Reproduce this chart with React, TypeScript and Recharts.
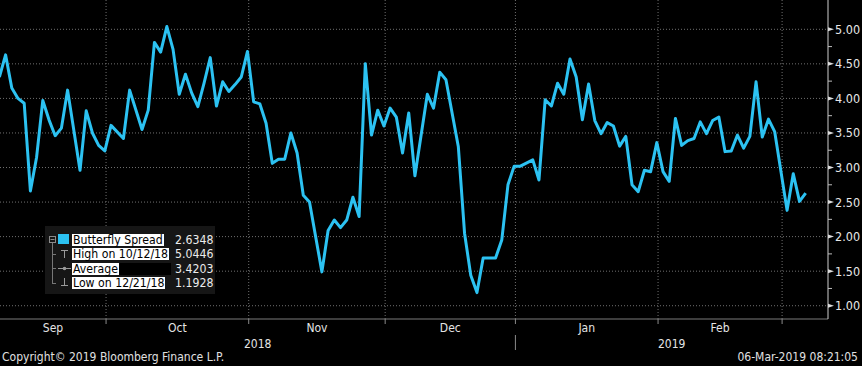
import React from "react";
import { LineChart, Line, XAxis, YAxis, CartesianGrid } from "recharts";

// Butterfly spread, one value per trading day (vertices)
const dates = [
  "2018-09-05", "2018-09-06", "2018-09-07", "2018-09-10", "2018-09-11", "2018-09-12",
  "2018-09-13", "2018-09-14", "2018-09-17", "2018-09-18", "2018-09-19", "2018-09-20",
  "2018-09-24", "2018-09-25", "2018-09-26", "2018-09-27", "2018-09-28",
  "2018-10-01", "2018-10-03", "2018-10-04", "2018-10-08", "2018-10-09", "2018-10-10",
  "2018-10-11", "2018-10-12", "2018-10-15", "2018-10-16", "2018-10-17", "2018-10-18",
  "2018-10-19", "2018-10-22", "2018-10-23", "2018-10-24", "2018-10-25", "2018-10-26",
  "2018-10-29", "2018-10-30", "2018-10-31",
  "2018-11-01", "2018-11-02", "2018-11-05", "2018-11-06", "2018-11-07", "2018-11-08",
  "2018-11-09", "2018-11-12", "2018-11-13", "2018-11-14", "2018-11-16", "2018-11-19",
  "2018-11-20", "2018-11-21", "2018-11-22", "2018-11-23", "2018-11-26", "2018-11-27",
  "2018-11-28", "2018-11-29", "2018-11-30",
  "2018-12-03", "2018-12-04", "2018-12-05", "2018-12-06", "2018-12-07", "2018-12-11",
  "2018-12-12", "2018-12-13", "2018-12-14", "2018-12-18", "2018-12-19", "2018-12-20",
  "2018-12-21", "2018-12-24", "2018-12-26", "2018-12-27", "2018-12-28", "2018-12-31",
  "2019-01-01", "2019-01-03", "2019-01-04", "2019-01-07", "2019-01-08", "2019-01-09",
  "2019-01-10", "2019-01-11", "2019-01-14", "2019-01-15", "2019-01-16", "2019-01-17",
  "2019-01-18", "2019-01-21", "2019-01-22", "2019-01-23", "2019-01-24", "2019-01-25",
  "2019-01-28", "2019-01-29", "2019-01-30", "2019-01-31",
  "2019-02-01", "2019-02-04", "2019-02-05", "2019-02-06", "2019-02-07", "2019-02-08",
  "2019-02-11", "2019-02-12", "2019-02-13", "2019-02-14", "2019-02-15", "2019-02-18",
  "2019-02-19", "2019-02-20", "2019-02-21", "2019-02-22", "2019-02-25", "2019-02-26",
  "2019-02-27",
  "2019-03-01", "2019-03-04", "2019-03-05", "2019-03-06",
];

const spread = [
  4.31, 4.63, 4.15, 4.0, 3.93, 2.66,
  3.15, 3.97, 3.69, 3.46, 3.57, 4.12,
  2.96, 3.82, 3.5, 3.32, 3.24,
  3.61, 3.42, 4.12, 3.55, 3.83, 4.81,
  4.67, 5.04, 4.71, 4.06, 4.35, 4.08,
  3.88, 4.22, 4.59, 3.89, 4.24, 4.1,
  4.2, 4.31, 4.68,
  3.95, 3.92, 3.64, 3.06, 3.12, 3.12,
  3.5, 3.21, 2.6, 2.5, 1.49, 2.09,
  2.24, 2.13, 2.24, 2.57, 2.29, 4.5,
  3.47, 3.83, 3.6,
  3.86, 3.73, 3.21, 3.79, 2.88, 4.06,
  3.86, 4.38, 4.27, 3.3, 2.05, 1.44,
  1.19, 1.69, 1.69, 1.95, 2.75, 3.02,
  3.02, 3.11, 2.82, 3.98, 3.89, 4.22,
  4.06, 4.57, 4.31, 3.69, 4.21, 3.68,
  3.49, 3.65, 3.6, 3.31, 3.45, 2.75,
  2.65, 2.96, 2.94, 3.36,
  2.94, 2.8, 3.71, 3.32, 3.39, 3.42,
  3.66, 3.49, 3.68, 3.73, 3.23, 3.24,
  3.47, 3.28, 3.45, 4.24, 3.44, 3.7,
  3.52,
  2.38, 2.91, 2.51, 2.63,
];

const monthStarts = ["2018-10-01", "2018-11-01", "2018-12-03", "2019-01-01", "2019-02-01", "2019-03-01"];
const monthLabels = ["Sep", "Oct", "Nov", "Dec", "Jan", "Feb"];
const yearLabels = ["2018", "2019"];
const yearStart = "2019-01-01";

const yTicks = [1.0, 1.25, 1.5, 1.75, 2.0, 2.25, 2.5, 2.75, 3.0, 3.25, 3.5, 3.75, 4.0, 4.25, 4.5, 4.75, 5.0];
const yGrid = [1.0, 1.5, 2.0, 2.5, 3.0, 3.5, 4.0, 4.5, 5.0];

const legendRows = [
  { label: "Butterfly Spread", value: "2.6348" },
  { label: "High on 10/12/18", value: "5.0446" },
  { label: "Average", value: "3.4203" },
  { label: "Low on 12/21/18", value: "1.1928" },
];

const LINE_COLOR = "#2cc2f2";
const FONT = '"Liberation Sans Narrow", "DejaVu Sans Condensed", sans-serif';

// weekday count since Mon 1 Oct 2018 (Bloomberg plots trading days only)
const BASE = Date.UTC(2018, 9, 1);
function tradingIndex(d: string) {
  const [y, m, day] = d.split("-").map(Number);
  const days = Math.round((Date.UTC(y, m - 1, day) - BASE) / 86400000);
  const weeks = Math.floor(days / 7);
  const rem = days - weeks * 7;
  return weeks * 5 + Math.min(rem, 5);
}

const GRID_SHIFT = 0.8; // month gridline sits a bit before the first trading day
const X_MIN = tradingIndex(dates[0]) + 0.1;
const X_MAX = tradingIndex(dates[dates.length - 1]) + 3.6;

const data = dates.map((d, i) => ({ x: tradingIndex(d), v: spread[i] }));
const bounds = monthStarts.map((d) => tradingIndex(d) - GRID_SHIFT);
const yearBound = tradingIndex(yearStart) - GRID_SHIFT;

// tick kinds for the bottom axis
const tickInfo = new Map<number, { kind: string; text?: string }>();
bounds.forEach((b) => tickInfo.set(b, { kind: b === yearBound ? "year-bound" : "bound" }));
monthLabels.forEach((m, i) => {
  const lo = i === 0 ? X_MIN : bounds[i - 1];
  tickInfo.set((lo + bounds[i]) / 2, { kind: "month", text: m });
});
tickInfo.set((X_MIN + yearBound) / 2, { kind: "year", text: yearLabels[0] });
tickInfo.set((yearBound + X_MAX) / 2, { kind: "year", text: yearLabels[1] });
const xTicks = Array.from(tickInfo.keys());

function XTick(props: any) {
  const { x, y, payload } = props;
  const info = tickInfo.get(payload.value);
  if (!info) return null;
  if (info.kind === "bound" || info.kind === "year-bound") {
    return (
      <g>
        <line x1={x} x2={x} y1={y} y2={y + 5} stroke="#8a8a8a" />
        {info.kind === "year-bound" && <line x1={x} x2={x} y1={y + 16} y2={y + 31} stroke="#8a8a8a" />}
      </g>
    );
  }
  return (
    <text x={x} y={info.kind === "month" ? y + 13 : y + 29} textAnchor="middle" fill="#e4e4e4" fontSize={12} fontFamily={FONT}>
      {info.text}
    </text>
  );
}

function YTick(props: any) {
  const { x, y, payload } = props;
  const v = payload.value as number;
  const major = Math.abs(v * 2 - Math.round(v * 2)) < 1e-6;
  if (!major) return <line x1={x} x2={x + 4} y1={y} y2={y} stroke="#bdbdbd" />;
  return (
    <g>
      <polygon points={`${x},${y - 2} ${x + 6},${y} ${x},${y + 2}`} fill="#dcdcdc" />
      <text x={x + 7} y={y + 4.5} fill="#e8e8e8" fontSize={12.5} fontFamily={FONT}>
        {v.toFixed(2)}
      </text>
    </g>
  );
}

function LegendBox() {
  const rowTops = [234, 248, 263, 277];
  const textStyle = { fontFamily: FONT, fontSize: 12.2, lineHeight: "12px" };
  return (
    <div style={{ position: "absolute", left: 45, top: 226, width: 170, height: 68, background: "#161616" }}>
      <svg width={170} height={68} style={{ position: "absolute", left: 0, top: 0 }}>
        {/* tree */}
        <rect x={4.5} y={10.5} width={6} height={6} fill="none" stroke="#8a8a8a" />
        <line x1={5.5} x2={9.5} y1={13.5} y2={13.5} stroke="#8a8a8a" />
        <line x1={7.5} x2={7.5} y1={17} y2={58} stroke="#777" />
        <line x1={7.5} x2={11} y1={28.5} y2={28.5} stroke="#777" />
        <line x1={7.5} x2={11} y1={42.5} y2={42.5} stroke="#777" />
        <line x1={7.5} x2={11} y1={57.5} y2={57.5} stroke="#777" />
        <rect x={13} y={8} width={11} height={10} fill={LINE_COLOR} />
        {/* high */}
        <line x1={16} x2={23} y1={24.5} y2={24.5} stroke="#9a9a9a" />
        <line x1={19.5} x2={19.5} y1={24.5} y2={32} stroke="#9a9a9a" />
        {/* average */}
        <line x1={13} x2={26} y1={42.5} y2={42.5} stroke="#9a9a9a" />
        <circle cx={19.5} cy={42.5} r={1.8} fill="#9a9a9a" />
        {/* low */}
        <line x1={19.5} x2={19.5} y1={52} y2={59.5} stroke="#9a9a9a" />
        <line x1={16} x2={23} y1={59.5} y2={59.5} stroke="#9a9a9a" />
      </svg>
      {legendRows.map((r, i) => (
        <div key={r.label} style={{ position: "absolute", left: 27, top: rowTops[i] - 226, height: 12, display: "flex" }}>
          <span
            style={{
              ...textStyle,
              background: "#fff",
              color: "#000",
              height: 12,
              padding: "0 1px",
              whiteSpace: "nowrap",
            }}
          >
            {r.label}
          </span>
          {i === 2 && <span style={{ width: 52, height: 12, background: "#000" }} />}
        </div>
      ))}
      {legendRows.map((r, i) => (
        <div
          key={r.value}
          style={{ ...textStyle, position: "absolute", left: 130, top: rowTops[i] - 226, color: "#ececec" }}
        >
          {r.value}
        </div>
      ))}
    </div>
  );
}

export default function App() {
  return (
    <div style={{ position: "absolute", left: 0, top: 0, width: 862, height: 366, background: "#000", overflow: "hidden" }}>
      <LineChart width={862} height={366} data={data} margin={{ top: 0, right: 0, bottom: 0, left: 0 }}>
        <CartesianGrid
          stroke="#707070"
          strokeDasharray="1 2"
          horizontalValues={yGrid}
          verticalValues={bounds}
        />
        <XAxis
          dataKey="x"
          type="number"
          domain={[X_MIN, X_MAX]}
          allowDataOverflow
          ticks={xTicks}
          interval={0}
          tick={<XTick />}
          tickLine={false}
          tickSize={0}
          tickMargin={0}
          height={47}
          axisLine={{ stroke: "#7a7a7a" }}
        />
        <YAxis
          orientation="right"
          width={34}
          domain={[0.808, 5.424]}
          allowDataOverflow
          ticks={yTicks}
          interval={0}
          tick={<YTick />}
          tickLine={false}
          tickSize={0}
          tickMargin={0}
          axisLine={{ stroke: "#cfcfcf" }}
        />
        <Line
          type="linear"
          dataKey="v"
          stroke={LINE_COLOR}
          strokeWidth={3}
          strokeLinejoin="round"
          dot={false}
          isAnimationActive={false}
        />
      </LineChart>
      <LegendBox />
      <div style={{ position: "absolute", left: 2, top: 351, color: "#e0e0e0", fontFamily: FONT, fontSize: 12, lineHeight: "13px" }}>
        Copyright© 2019 Bloomberg Finance L.P.
      </div>
      <div style={{ position: "absolute", right: 4, top: 351, color: "#e0e0e0", fontFamily: FONT, fontSize: 12, lineHeight: "13px" }}>
        06-Mar-2019 08:21:05
      </div>
    </div>
  );
}
